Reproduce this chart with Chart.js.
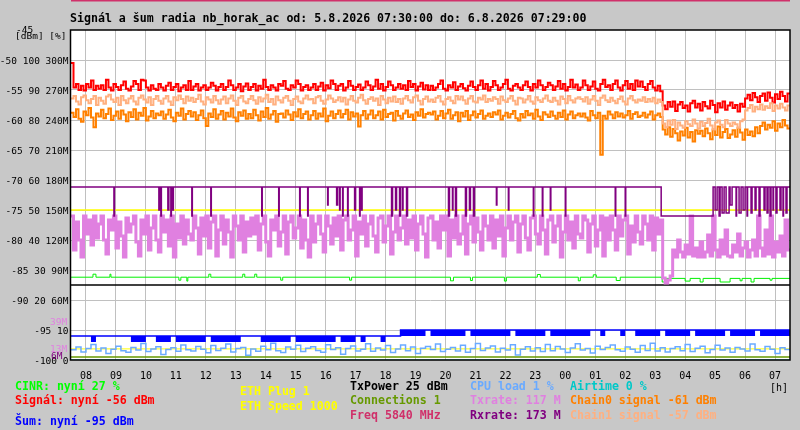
<!DOCTYPE html>
<html>
<head>
<meta charset="utf-8">
<script src="https://cdn.jsdelivr.net/npm/chart.js@4.4.0/dist/chart.umd.min.js"></script>
<style>
body { margin: 0; background: #c8c8c8; }
#wrap { position: relative; width: 800px; height: 430px; overflow: hidden; background: #c8c8c8; }
#c { position: absolute; left: 0; top: 0; }
.t { position: absolute; font-family: 'DejaVu Sans Mono', monospace; white-space: pre; line-height: 1; }
.b { font-weight: bold; font-size: 11.6px; }
.s { font-size: 9.5px; }
.m { font-size: 10px; }
</style>
</head>
<body>
<div id="wrap">
  <canvas id="c" width="800" height="430"></canvas>
</div>
<script>
// time axis: minutes from 5.8. 07:30
const hourTicks = [30, 90, 150, 210, 270, 330, 390, 450, 510, 570, 630, 690, 750, 810, 870, 930, 990, 1050, 1110, 1170, 1230, 1290, 1350, 1410];
const hourLabels = ['08', '09', '10', '11', '12', '13', '14', '15', '16', '17', '18', '19', '20', '21', '22', '23', '00', '01', '02', '03', '04', '05', '06', '07'];
const yTicks = [-100, -95, -90, -85, -80, -75, -70, -65, -60, -55, -50];
const yLabels = ['-100 0', '-95 10', '-90 20 60M', '-85 30 90M', '-80 40 120M', '-75 50 150M', '-70 60 180M', '-65 70 210M', '-60 80 240M', '-55 90 270M', '-50 100 300M'];

// 5 min samples, one row = one hour
const signal = [
  -50.5, -54.6, -54.0, -55.0, -54.3, -55.1, -54.0, -54.6, -53.4, -55.0, -54.3, -54.8,
  -54.2, -55.0, -53.3, -54.6, -55.1, -54.0, -54.5, -55.0, -54.2, -53.6, -54.8, -55.1,
  -54.4, -53.5, -54.0, -55.0, -53.3, -53.4, -54.6, -55.1, -54.2, -54.8, -55.0, -54.0,
  -54.6, -55.1, -54.3, -53.8, -55.0, -54.5, -54.0, -55.2, -54.6, -54.2, -55.0, -53.5,
  -55.0, -54.4, -54.0, -55.1, -54.6, -54.2, -55.0, -54.6, -53.8, -54.3, -55.1, -54.5,
  -54.0, -55.0, -54.5, -53.4, -54.2, -55.0, -54.6, -54.0, -55.2, -54.4, -53.9, -55.0,
  -54.5, -54.0, -55.1, -54.3, -54.8, -53.3, -54.5, -55.0, -54.2, -54.6, -55.1, -54.0,
  -54.3, -53.5, -54.8, -55.0, -54.2, -54.6, -53.4, -54.0, -55.1, -54.5, -54.2, -55.0,
  -54.6, -54.0, -55.0, -54.4, -53.8, -55.1, -54.2, -54.7, -53.4, -54.0, -55.0, -54.3,
  -54.0, -55.1, -54.6, -53.5, -54.3, -55.0, -54.5, -54.1, -55.0, -54.6, -53.6, -54.2,
  -55.0, -54.4, -53.3, -54.8, -54.0, -55.1, -54.5, -53.6, -54.2, -55.0, -54.6, -54.0,
  -54.8, -54.2, -55.0, -53.5, -54.5, -54.0, -55.1, -54.4, -53.8, -54.9, -54.2, -55.0,
  -54.3, -55.0, -54.6, -54.0, -53.4, -54.8, -55.1, -54.2, -54.6, -53.7, -55.0, -54.4,
  -54.0, -54.7, -55.1, -54.3, -53.6, -54.5, -55.0, -54.2, -53.4, -54.8, -54.0, -55.1,
  -54.5, -53.5, -54.2, -55.0, -54.6, -54.0, -53.3, -54.8, -55.1, -54.3, -54.0, -54.6,
  -55.0, -54.2, -53.6, -54.5, -55.1, -54.0, -54.6, -53.4, -54.2, -55.0, -54.5, -53.8,
  -54.2, -55.0, -54.4, -53.5, -54.8, -54.0, -55.1, -54.5, -53.3, -54.6, -54.1, -55.0,
  -54.6, -53.4, -54.2, -55.0, -54.4, -53.6, -54.8, -55.1, -54.0, -53.3, -54.5, -54.2,
  -55.0, -54.0, -53.4, -54.6, -55.1, -54.2, -53.5, -54.8, -54.0, -55.0, -53.4, -54.4,
  -53.6, -54.5, -55.0, -54.0, -53.5, -54.6, -55.1, -54.3, -55.2, -57.6, -58.2, -57.0,
  -57.8, -56.9, -58.5, -57.4, -57.0, -58.0, -57.6, -58.6, -57.2, -56.8, -57.9, -57.3,
  -58.4, -57.0, -57.7, -58.1, -56.8, -57.5, -58.7, -57.2, -57.9, -56.9, -58.3, -57.6,
  -57.1, -58.0, -57.5, -58.6, -57.3, -57.8, -56.4, -55.8, -56.7, -55.5, -56.2, -57.0,
  -56.0, -55.6, -56.8, -55.4, -56.3, -57.1, -55.7, -56.5, -55.3, -56.0, -56.9, -55.6
];
const chain1 = [
  -56.4, -56.0, -56.9, -57.4, -56.2, -55.9, -56.7, -57.2, -56.5, -56.0, -57.5, -56.3,
  -56.8, -57.3, -56.1, -55.8, -56.6, -57.0, -56.3, -57.5, -56.0, -56.7, -57.2, -56.4,
  -56.0, -56.9, -57.4, -56.3, -55.9, -56.6, -57.1, -56.2, -57.5, -56.5, -56.0, -56.8,
  -57.3, -56.4, -56.0, -56.9, -57.5, -56.2, -56.7, -55.9, -56.5, -57.2, -56.1, -56.8,
  -56.3, -57.0, -56.5, -55.8, -56.9, -57.4, -56.2, -56.6, -57.1, -56.0, -56.7, -57.3,
  -56.6, -56.1, -57.2, -56.4, -55.9, -56.8, -57.5, -56.3, -56.0, -56.9, -57.2, -56.5,
  -56.0, -56.7, -57.3, -56.2, -56.9, -56.4, -55.8, -57.0, -56.5, -57.4, -56.1, -56.7,
  -57.1, -56.3, -56.0, -56.8, -57.5, -56.5, -56.1, -56.9, -57.2, -56.4, -55.9, -56.6,
  -56.5, -57.2, -56.2, -56.0, -56.8, -57.3, -56.6, -55.9, -56.4, -57.0, -56.7, -56.2,
  -56.9, -56.3, -57.4, -56.6, -56.0, -56.8, -57.1, -56.3, -55.8, -56.7, -57.3, -56.5,
  -56.2, -56.8, -56.4, -57.5, -56.0, -56.6, -57.2, -56.3, -56.9, -56.1, -57.0, -56.5,
  -57.3, -56.4, -56.0, -56.7, -57.1, -56.2, -55.9, -56.8, -57.4, -56.5, -56.1, -56.9,
  -56.6, -57.0, -56.3, -56.0, -56.9, -57.4, -56.5, -56.2, -56.8, -57.2, -56.0, -56.6,
  -56.1, -56.7, -57.3, -56.4, -56.0, -56.9, -57.1, -56.3, -56.6, -55.9, -57.0, -56.5,
  -56.8, -56.2, -56.5, -57.3, -56.1, -56.7, -57.0, -56.4, -56.0, -56.8, -57.4, -56.3,
  -56.4, -57.1, -56.6, -56.0, -56.9, -57.3, -56.2, -56.7, -57.0, -56.4, -55.9, -56.8,
  -57.0, -56.3, -56.8, -57.4, -56.1, -56.5, -57.2, -56.0, -56.7, -57.1, -56.4, -56.2,
  -56.5, -56.9, -56.2, -57.3, -56.6, -56.0, -56.8, -57.5, -56.3, -55.9, -56.7, -57.0,
  -56.3, -56.8, -57.2, -56.5, -56.1, -56.9, -57.4, -56.4, -56.0, -56.7, -57.1, -56.6,
  -56.8, -56.2, -57.0, -56.5, -56.9, -56.3, -57.2, -56.6, -57.0, -60.6, -61.2, -60.1,
  -60.8, -60.0, -61.5, -60.4, -60.9, -61.3, -60.2, -60.7, -61.0, -59.9, -60.6, -61.4,
  -60.3, -61.0, -60.5, -59.8, -60.9, -61.6, -60.4, -60.1, -60.8, -61.2, -60.0, -60.6,
  -61.0, -60.4, -60.7, -61.3, -60.2, -59.9, -58.4, -58.0, -57.5, -58.6, -57.8, -58.2,
  -57.4, -58.3, -57.7, -58.0, -57.2, -58.5, -57.6, -58.1, -57.3, -57.9, -58.4, -57.6
];
const chain0 = [
  -58.8, -59.5, -58.2, -59.8, -60.3, -58.6, -59.2, -58.0, -59.6, -61.2, -58.9, -59.4,
  -58.3, -59.7, -59.0, -58.1, -60.0, -59.3, -58.6, -59.8, -58.4, -59.1, -60.2, -58.7,
  -59.5, -58.2, -59.9, -58.8, -59.3, -58.0, -60.1, -59.4, -58.5, -59.7, -58.9, -59.2,
  -58.6, -59.8, -59.1, -58.3, -59.6, -60.2, -58.8, -59.3, -58.1, -59.9, -59.0, -58.5,
  -59.4, -58.7, -60.0, -59.2, -58.4, -59.7, -61.0, -58.9, -59.5, -58.2, -59.8, -59.1,
  -58.5, -59.9, -58.8, -59.4, -58.1, -59.6, -60.2, -58.7, -59.3, -58.4, -59.8, -59.0,
  -59.7, -58.3, -59.2, -60.1, -58.6, -59.5, -58.0, -59.8, -59.1, -58.5, -60.3, -59.0,
  -58.9, -59.6, -58.4, -59.1, -60.0, -58.7, -59.4, -58.2, -59.7, -59.0, -58.6, -59.9,
  -59.2, -58.5, -59.8, -58.9, -59.4, -58.1, -60.2, -59.3, -58.6, -59.7, -59.0, -58.4,
  -59.6, -59.0, -58.3, -59.9, -58.7, -59.4, -58.9, -61.1, -59.2, -58.5, -59.8, -59.1,
  -58.4, -59.7, -59.2, -58.6, -59.9, -58.3, -59.5, -59.0, -58.8, -60.1, -58.5, -59.3,
  -59.8, -58.9, -58.4, -59.5, -59.1, -60.0, -58.7, -59.3, -58.2, -59.6, -59.0, -58.8,
  -59.1, -58.6, -59.9, -59.3, -58.5, -59.7, -58.9, -58.3, -59.8, -59.2, -58.7, -60.2,
  -58.8, -59.4, -58.5, -60.0, -59.2, -58.6, -59.6, -59.0, -58.4, -59.8, -59.3, -58.9,
  -59.5, -58.7, -59.1, -58.4, -59.9, -59.3, -58.8, -59.6, -59.0, -58.5, -59.7, -60.1,
  -59.0, -59.6, -58.5, -59.2, -58.9, -59.8, -58.3, -59.4, -60.0, -58.7, -59.1, -59.5,
  -58.6, -59.3, -59.8, -58.8, -59.5, -58.4, -59.9, -59.1, -58.6, -59.7, -59.2, -58.9,
  -59.4, -58.9, -59.6, -60.1, -58.5, -59.2, -59.7, -58.8, -65.8, -59.3, -59.8, -58.6,
  -59.1, -59.7, -58.7, -59.4, -58.9, -59.6, -59.2, -58.5, -59.8, -59.0, -58.7, -59.5,
  -59.3, -58.8, -59.6, -59.1, -58.6, -59.9, -59.2, -58.9, -59.5, -61.6, -62.4, -61.2,
  -62.8, -61.5, -62.2, -63.4, -61.9, -62.6, -61.3, -62.9, -62.0, -63.6, -61.7, -62.3,
  -61.8, -62.7, -61.4, -62.2, -63.2, -61.6, -62.5, -61.1, -62.9, -62.0, -61.5, -63.0,
  -62.4, -61.7, -62.8, -61.3, -62.1, -63.3, -61.6, -62.5, -61.9, -62.7, -61.2, -62.2,
  -61.0, -60.4, -61.6, -60.8, -61.3, -60.2, -61.8, -60.6, -61.2, -60.0, -60.9, -61.4
];
// Txrate in M
const txrate = [
  144, 110, 138, 120, 103, 144, 126, 140, 115, 144, 122, 136,
  144, 120, 106, 140, 130, 144, 112, 138, 124, 103, 142, 128,
  136, 144, 118, 104, 140, 126, 144, 110, 132, 144, 120, 108,
  144, 128, 140, 114, 144, 103, 136, 122, 144, 116, 140, 126,
  120, 144, 132, 106, 142, 124, 144, 112, 138, 144, 104, 130,
  144, 116, 140, 128, 103, 144, 134, 120, 144, 108, 138, 124,
  142, 126, 144, 110, 136, 144, 118, 104, 140, 130, 144, 114,
  128, 144, 106, 138, 144, 122, 132, 144, 112, 140, 120, 103,
  144, 118, 136, 144, 126, 108, 144, 134, 116, 142, 124, 144,
  110, 140, 144, 120, 130, 144, 104, 138, 126, 144, 114, 136,
  144, 124, 108, 142, 144, 118, 134, 144, 106, 128, 144, 120,
  132, 144, 116, 140, 122, 144, 110, 136, 144, 126, 103, 142,
  144, 120, 138, 112, 144, 130, 144, 104, 140, 122, 144, 116,
  126, 144, 106, 136, 144, 118, 142, 128, 110, 144, 134, 120,
  144, 112, 140, 124, 144, 104, 132, 144, 120, 138, 144, 108,
  136, 144, 122, 110, 142, 144, 126, 116, 144, 130, 106, 140,
  144, 118, 134, 144, 103, 128, 144, 120, 138, 112, 144, 126,
  122, 144, 140, 108, 136, 144, 114, 130, 144, 104, 142, 120,
  144, 130, 110, 144, 124, 140, 144, 106, 134, 118, 144, 128,
  116, 144, 136, 120, 144, 110, 142, 126, 140, 82, 77, 80,
  84, 110, 103, 120, 108, 103, 115, 106, 144, 104, 112, 103,
  118, 103, 108, 125, 104, 144, 110, 103, 120, 106, 130, 104,
  103, 115, 108, 126, 104, 112, 118, 103, 110, 120, 104, 144,
  112, 104, 130, 106, 144, 103, 118, 108, 124, 104, 140, 110
];
// noise, 10 min samples: upper and lower value inside each interval (one row = two hours)
const noiseTop = [
  -96, -96, -96, -96, -96, -96, -96, -96, -96, -96, -96, -96,
  -96, -96, -96, -96, -96, -96, -96, -96, -96, -96, -96, -96,
  -96, -96, -96, -96, -96, -96, -96, -96, -96, -96, -96, -96,
  -96, -96, -96, -96, -96, -96, -96, -96, -96, -96, -96, -96,
  -96, -96, -96, -96, -96, -96, -96, -96, -96, -96, -96, -96,
  -96, -96, -96, -96, -96, -96, -95, -95, -95, -95, -95, -95,
  -95, -95, -95, -95, -95, -95, -95, -95, -95, -95, -95, -95,
  -95, -95, -95, -95, -95, -95, -95, -95, -95, -95, -95, -95,
  -95, -95, -95, -95, -95, -95, -95, -95, -95, -95, -95, -95,
  -95, -95, -95, -95, -95, -95, -95, -95, -95, -95, -95, -95,
  -95, -95, -95, -95, -95, -95, -95, -95, -95, -95, -95, -95,
  -95, -95, -95, -95, -95, -95, -95, -95, -95, -95, -95, -95
];
const noiseLow = [
  -96, -96, -96, -96, -97, -96, -96, -96, -96, -96, -96, -96,
  -97, -97, -97, -96, -96, -97, -97, -97, -96, -97, -97, -97,
  -97, -97, -97, -96, -97, -97, -97, -97, -97, -97, -96, -96,
  -96, -96, -97, -97, -97, -97, -97, -97, -96, -97, -97, -97,
  -97, -97, -97, -97, -97, -96, -97, -97, -97, -96, -97, -96,
  -96, -96, -97, -96, -96, -96, -96, -96, -96, -96, -96, -95,
  -96, -96, -96, -96, -96, -96, -96, -95, -96, -96, -96, -96,
  -96, -96, -96, -96, -95, -96, -96, -96, -96, -96, -96, -95,
  -96, -96, -96, -96, -96, -96, -96, -96, -95, -95, -96, -95,
  -95, -95, -96, -95, -95, -96, -96, -96, -96, -96, -95, -96,
  -96, -96, -96, -96, -95, -96, -96, -96, -96, -96, -96, -95,
  -96, -96, -96, -96, -96, -95, -96, -96, -96, -96, -96, -96
];
const cpuLoad = [
  3.4, 4.3, 2.7, 3.8, 5.2, 3.0, 4.0, 2.2, 3.6, 4.6, 3.1, 2.6,
  4.2, 3.3, 5.5, 2.8, 3.7, 4.4, 1.8, 3.5, 4.1, 2.9, 5.0, 3.4,
  3.0, 4.5, 3.6, 2.4, 4.8, 3.2, 3.9, 5.3, 2.7, 3.8, 4.2, 1.6,
  3.7, 2.9, 4.6, 3.4, 5.6, 3.1, 2.5, 4.3, 3.6, 4.9, 2.8, 3.9,
  4.4, 3.2, 2.6, 5.1, 3.5, 4.1, 1.9, 3.8, 4.7, 3.0, 3.6, 5.4,
  2.9, 4.0, 3.3, 4.8, 2.5, 3.7, 5.0, 3.1, 4.3, 2.2, 3.9, 4.5,
  3.5, 5.3, 2.8, 3.6, 4.2, 3.0, 4.9, 2.6, 3.8, 5.5, 3.2, 4.0,
  4.7, 2.7, 3.9, 3.3, 5.1, 1.7, 3.6, 4.4, 3.0, 4.1, 2.8, 5.2,
  3.1, 4.5, 3.7, 2.5, 4.0, 5.4, 3.3, 3.8, 2.3, 4.6, 3.5, 4.2,
  5.0, 3.4, 2.9, 4.3, 3.6, 2.6, 4.8, 3.2, 5.6, 3.0, 4.1, 2.7,
  3.8, 4.4, 3.1, 5.2, 2.8, 3.9, 4.6, 2.4, 3.5, 4.9, 3.3, 4.0,
  2.6, 4.2, 3.7, 3.0, 5.3, 3.4, 2.9, 4.5, 3.6, 2.2, 4.1, 3.5
];
// Rxrate: 173 M with short drops (start minute, length, value)
const rxBase = 173;
const rxDipStart = [86, 176, 180, 194, 200, 204, 242, 280, 382, 416, 458, 474, 514, 532, 538, 544, 554, 568, 578, 582, 642, 650, 658, 664, 672, 756, 764, 770, 790, 798, 806, 852, 876, 926, 944, 960, 990, 1090, 1110, 1182, 1290, 1298, 1304, 1312, 1320, 1332, 1338, 1346, 1354, 1362, 1370, 1378, 1388, 1394, 1400, 1406, 1412, 1420, 1426, 1432];
const rxDipLen = [1, 1, 1, 2, 1, 1, 1, 1, 1, 1, 1, 1, 1, 2, 1, 1, 1, 2, 1, 1, 2, 2, 2, 1, 2, 2, 1, 2, 2, 2, 2, 1, 1, 1, 1, 1, 1, 1, 1, 104, 4, 2, 4, 6, 4, 1, 4, 4, 1, 2, 2, 2, 2, 2, 2, 1, 2, 2, 1, 2];
const rxDipVal = [144, 150, 144, 150, 144, 150, 144, 144, 144, 144, 144, 144, 155, 155, 150, 144, 144, 150, 144, 150, 144, 150, 144, 150, 144, 144, 150, 144, 144, 150, 144, 155, 150, 144, 144, 150, 144, 144, 144, 144, 150, 144, 147, 147, 155, 144, 147, 150, 144, 147, 150, 144, 150, 147, 144, 150, 147, 150, 144, 147];
// CINR in %, value changes at given minute
const cinrMin = [0, 44, 50, 78, 80, 216, 220, 232, 234, 276, 280, 344, 348, 368, 372, 420, 424, 558, 562, 760, 766, 800, 804, 868, 872, 934, 940, 1016, 1020, 1046, 1052, 1092, 1100, 1184, 1190, 1230, 1240, 1260, 1266, 1300, 1320, 1340, 1344, 1362, 1368, 1400, 1404];
const cinrVal = [27.6, 28.6, 27.6, 28.6, 27.6, 26.6, 27.6, 26.3, 27.6, 28.6, 27.6, 28.6, 27.6, 28.6, 27.6, 26.6, 27.6, 26.6, 27.6, 26.4, 27.6, 26.5, 27.6, 26.3, 27.6, 28.5, 27.6, 26.4, 27.6, 28.4, 27.6, 26.5, 27.6, 26.0, 27.2, 26.3, 27.2, 26.0, 27.2, 26.0, 27.2, 26.4, 27.2, 26.0, 27.2, 26.6, 27.2];
// flat lines
const flatMin = [0, 1440];
const txPower = [25, 25];
const connections = [1, 1];
const airtime = [0, 0];
const ethSpeed = [150, 150];
const ethPlug = [3.7, 3.7];
const freqLine = [-40.1, -40.1];

function stepSeries(vals, step) {
    const pts = vals.map((v, i) => ({ x: i * step, y: v }));
    pts.push({ x: vals.length * step, y: vals[vals.length - 1] });
    return pts;
}
function pairs(xs, ys) {
    const pts = xs.map((x, i) => ({ x: x, y: ys[i] }));
    pts.push({ x: 1440, y: ys[ys.length - 1] });
    return pts;
}
function rxSeries() {
    const pts = [{ x: 0, y: rxBase }];
    rxDipStart.forEach((s, i) => {
        pts.push({ x: s, y: rxDipVal[i] });
        pts.push({ x: s + rxDipLen[i], y: rxBase });
    });
    pts.push({ x: 1440, y: rxBase });
    return pts;
}
function ds(data, color, axis, extra) {
    return Object.assign({ data: data, borderColor: color, yAxisID: axis, stepped: true, borderWidth: 1, fill: false }, extra || {});
}

// first in list is drawn on top
const datasets = [
    ds(stepSeries(chain1, 5), '#ffb080', 'y', { borderWidth: 2 }),
    ds(stepSeries(chain0, 5), '#ff8000', 'y', { borderWidth: 2 }),
    ds(pairs(flatMin, airtime), '#00c8c8', 'yPct'),
    ds(rxSeries(), '#800080', 'yRate', { borderWidth: 1.5 }),
    ds(stepSeries(txrate, 5), '#e080e0', 'yRate', { borderWidth: 3 }),
    ds(stepSeries(cpuLoad, 10), '#6aaaff', 'yPct', { borderWidth: 1.5 }),
    ds(pairs(flatMin, freqLine), '#d0306a', 'y', { clip: false, borderWidth: 2 }),
    ds(pairs(flatMin, connections), '#669900', 'yPct', { borderWidth: 1.5 }),
    ds(pairs(flatMin, txPower), '#000000', 'yPct', { borderWidth: 1.5 }),
    ds(pairs(flatMin, ethSpeed), '#ffff00', 'yRate', { borderWidth: 1.5 }),
    ds(pairs(flatMin, ethPlug), '#ffff00', 'yPct'),
    ds(stepSeries(noiseTop, 10), '#0000ff', 'y', { borderWidth: 1.5, fill: '+1', backgroundColor: '#0000ff' }),
    ds(stepSeries(noiseLow, 10), '#0000ff', 'y', { borderWidth: 0 }),
    ds(stepSeries(signal, 5), '#ff0000', 'y', { borderWidth: 2 }),
    ds(pairs(cinrMin, cinrVal), '#00f000', 'yPct')
];

const mono = 'DejaVu Sans Mono';
const frame = {
    id: 'frame',
    beforeDraw(chart) {
        const a = chart.chartArea;
        const c = chart.ctx;
        c.save();
        c.fillStyle = '#ffffff';
        c.fillRect(a.left, a.top, a.right - a.left, a.bottom - a.top);
        c.restore();
    },
    afterDatasetsDraw(chart) {
        const a = chart.chartArea;
        const c = chart.ctx;
        c.save();
        c.strokeStyle = '#000000';
        c.lineWidth = 1.5;
        c.strokeRect(a.left - 0.5, a.top, a.right - a.left + 0.5, a.bottom - a.top);
        c.restore();
    }
};

new Chart(document.getElementById('c'), {
    type: 'line',
    data: { datasets: datasets },
    options: {
        responsive: false,
        animation: false,
        layout: { padding: { top: 30, right: 10, left: 0, bottom: 0 } },
        elements: { point: { radius: 0 }, line: { tension: 0 } },
        plugins: { legend: { display: false }, tooltip: { enabled: false } },
        scales: {
            x: {
                type: 'linear', min: 0, max: 1440,
                afterBuildTicks: s => { s.ticks = hourTicks.map(v => ({ value: v })); },
                afterFit: s => { s.height = 70; },
                ticks: { callback: (v, i) => hourLabels[i], autoSkip: false, maxRotation: 0, padding: 10, color: '#000', font: { family: mono, size: 10 } },
                grid: { color: '#c0c0c0', drawTicks: false },
                border: { display: false }
            },
            y: {
                type: 'linear', min: -100, max: -45,
                afterBuildTicks: s => { s.ticks = yTicks.map(v => ({ value: v })); },
                afterFit: s => { s.width = 71; },
                ticks: { callback: (v, i) => yLabels[i], padding: 2.5, labelOffset: 2, color: '#000', font: { family: mono, size: 9.5 } },
                grid: { color: '#c0c0c0', drawTicks: false },
                border: { display: false }
            },
            yPct: { axis: 'y', display: false, min: 0, max: 110 },
            yRate: { axis: 'y', display: false, min: 0, max: 330 }
        }
    },
    plugins: [frame]
});

// texts around the plot: [text, left, centre y, class, colour]
const texts = [
    ['Signál a šum radia nb_horak_ac od: 5.8.2026 07:30:00 do: 6.8.2026 07:29:00', 70, 19, 'b', '#000'],
    ['-45', 16, 30, 's', '#000'],
    ['[dBm] [%]', 15, 36, 's', '#000'],
    ['39M', 50, 322, 's', '#e080e0'],
    ['13M', 50, 349, 's', '#e080e0'],
    ['6M', 51, 356, 's', '#800080'],
    ['[h]', 770, 388, 'm', '#000'],
    ['CINR: nyní 27 %', 15, 387, 'b', '#00ff00'],
    ['Signál: nyní -56 dBm', 15, 401, 'b', '#ff0000'],
    ['Šum: nyní -95 dBm', 15, 422, 'b', '#0000ff'],
    ['ETH Plug 1', 240, 392, 'b', '#ffff00'],
    ['ETH Speed 1000', 240, 407, 'b', '#ffff00'],
    ['TxPower 25 dBm', 350, 387, 'b', '#000000'],
    ['Connections 1', 350, 401, 'b', '#669900'],
    ['Freq 5840 MHz', 350, 416, 'b', '#d0306a'],
    ['CPU load 1 %', 470, 387, 'b', '#6aaaff'],
    ['Txrate: 117 M', 470, 401, 'b', '#e080e0'],
    ['Rxrate: 173 M', 470, 416, 'b', '#800080'],
    ['Airtime 0 %', 570, 387, 'b', '#00c8c8'],
    ['Chain0 signal -61 dBm', 570, 401, 'b', '#ff8000'],
    ['Chain1 signal -57 dBm', 570, 416, 'b', '#ffb080']
];
const wrap = document.getElementById('wrap');
const sizes = { b: 11.6, s: 9.5, m: 10 };
texts.forEach(t => {
    const el = document.createElement('div');
    el.className = 't ' + t[3];
    el.textContent = t[0];
    el.style.left = t[1] + 'px';
    el.style.top = (t[2] - sizes[t[3]] * 0.48) + 'px';
    el.style.color = t[4];
    wrap.appendChild(el);
});
</script>
</body>
</html>
